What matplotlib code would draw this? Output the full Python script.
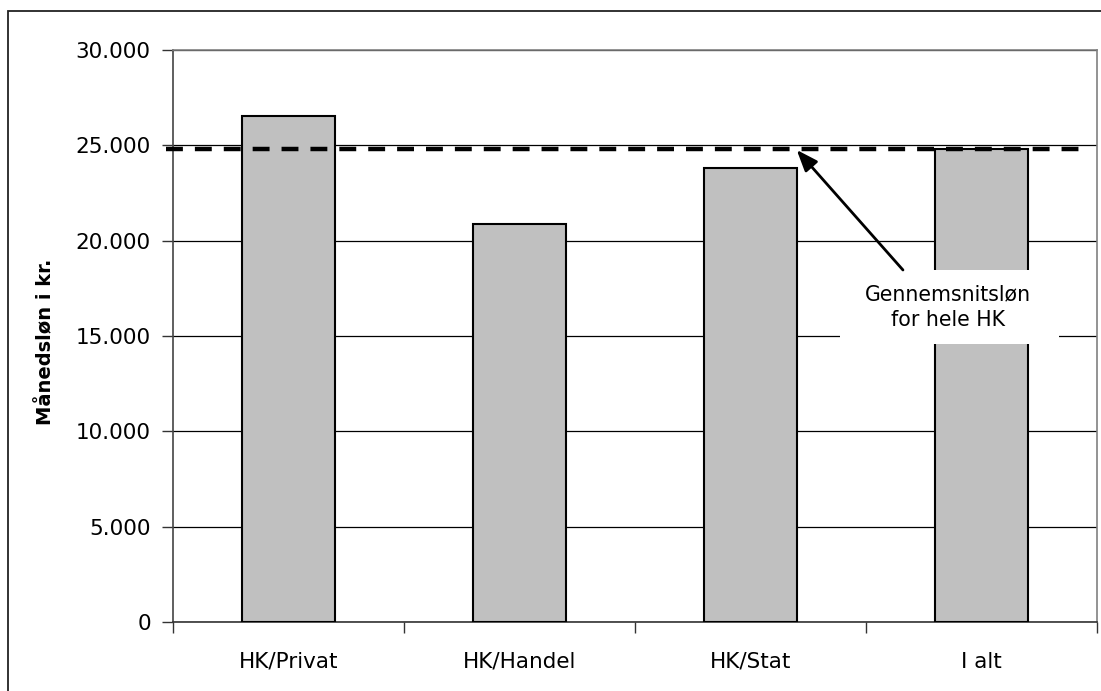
import matplotlib
matplotlib.use("Agg")
import matplotlib.pyplot as plt
from matplotlib.patches import Rectangle

categories = ["HK/Privat", "HK/Handel", "HK/Stat", "I alt"]
wages = [26550, 20900, 23800, 24800]
average = 24800
yticks = [0, 5000, 10000, 15000, 20000, 25000, 30000]
ytick_labels = ["0", "5.000", "10.000", "15.000", "20.000", "25.000", "30.000"]

W, H = 1101, 691
fig = plt.figure(figsize=(W / 100, H / 100), dpi=100)
plt.rcParams["font.family"] = ["DejaVu Sans"]

# outer chart frame (runs off the right/bottom of the picture)
fig.patches.append(Rectangle((8 / W, -0.1), 1.2, 1 - 11 / H + 0.1,
                             transform=fig.transFigure, fill=False,
                             edgecolor="#222222", linewidth=1.3))

ax = fig.add_axes([173 / W, 1 - 622 / H, (1097 - 173) / W, (622 - 50) / H])

x = range(len(categories))
ax.bar(x, wages, width=0.4, color="#c0c0c0", edgecolor="black", linewidth=1.5, zorder=3)

ax.set_xlim(-0.5, 3.5)
ax.set_ylim(0, 30000)
ax.set_yticks(yticks)
ax.set_yticklabels(ytick_labels, fontsize=15.5)
ax.yaxis.grid(True, color="black", linewidth=0.9, zorder=0)

ax.set_xticks([-0.5, 0.5, 1.5, 2.5, 3.5])
ax.set_xticklabels([])
ax.set_xticks(list(x), minor=True)
ax.set_xticklabels(categories, minor=True, fontsize=15.5)
ax.tick_params(axis="x", which="minor", length=0, pad=21.5)
ax.tick_params(axis="x", which="major", length=8, width=1, color="#333333", direction="out")
ax.tick_params(axis="y", length=8, width=1, color="#333333", pad=8)

for side in ["left", "right", "top", "bottom"]:
    ax.spines[side].set_color("#808080")
    ax.spines[side].set_linewidth(1.2)
ax.spines["bottom"].set_color("#333333")
ax.spines["left"].set_color("#444444")

ax.set_ylabel("Månedsløn i kr.", fontsize=14, fontweight="bold")
ax.yaxis.set_label_coords(-0.127, 0.49)

ax.plot([-0.53, 3.43], [average, average], color="black", linewidth=3.2,
        dashes=(3.8, 2.7), zorder=4, clip_on=False)

# white label box with the arrow pointing at the average line
ax.add_patch(Rectangle((2.387, 14580), 3.335 - 2.387, 18462 - 14580,
                       facecolor="white", edgecolor="none", zorder=5))
ax.text(2.855, 16500, "Gennemsnitsløn\nfor hele HK", ha="center", va="center",
        fontsize=14.8, linespacing=1.38, zorder=6)
ax.annotate("", xy=(2.2, 24760), xytext=(2.66, 18462),
            arrowprops=dict(arrowstyle="-|>,head_length=1.3,head_width=0.5",
                            color="black", linewidth=2, shrinkA=0, shrinkB=0),
            zorder=6)

fig.savefig("out.png", dpi=100)
